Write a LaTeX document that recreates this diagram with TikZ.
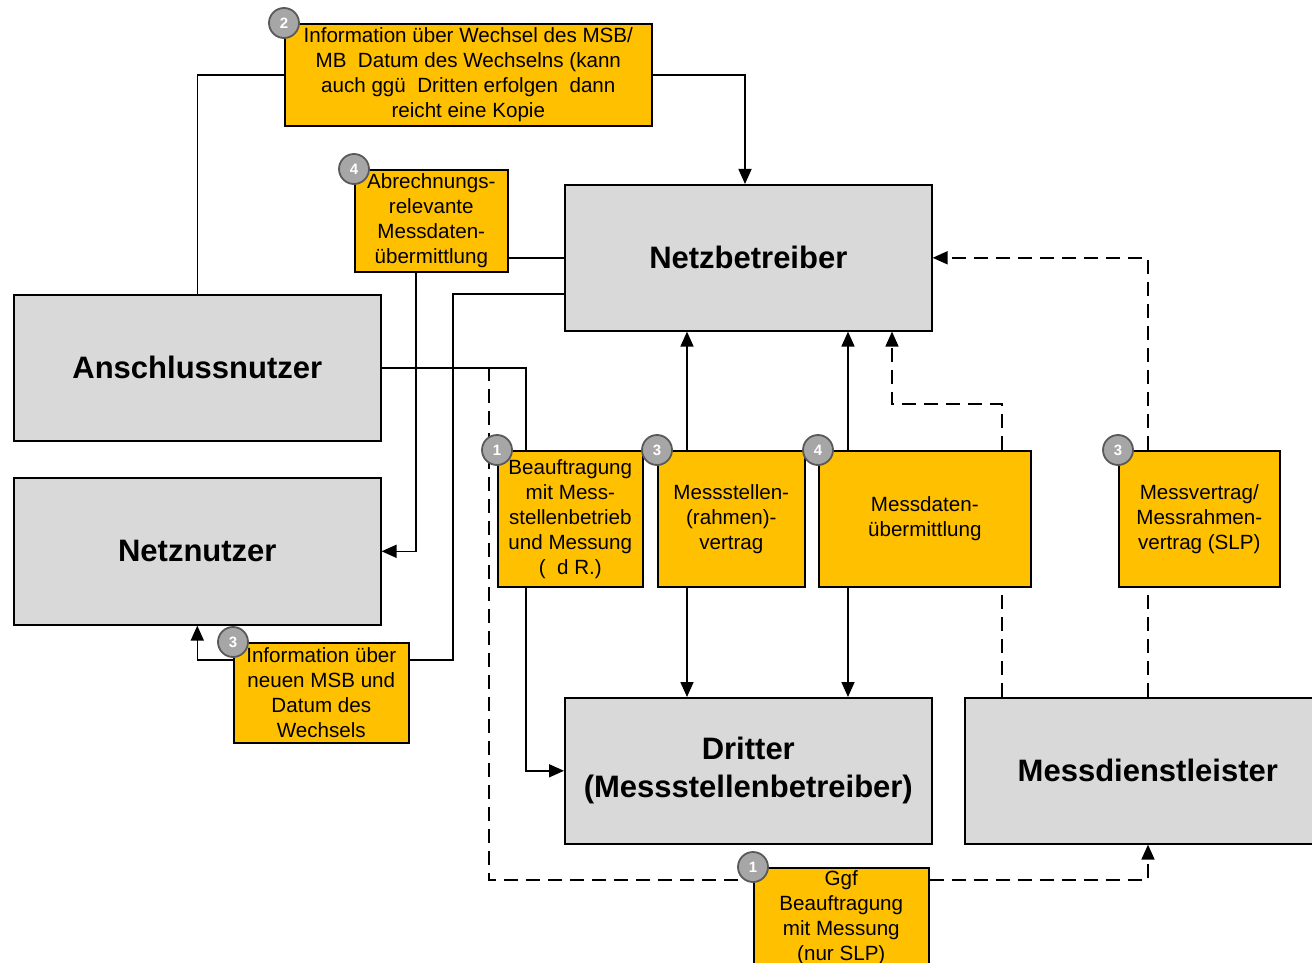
\documentclass[tikz,border=0pt]{standalone}
\usepackage{fontspec}
\setmainfont{Liberation Sans}
\usetikzlibrary{arrows.meta}
\definecolor{boxgray}{HTML}{D9D9D9}
\definecolor{boxorange}{HTML}{FFC000}
\definecolor{badgegray}{HTML}{A6A6A6}
\definecolor{badgeline}{HTML}{595959}
\tikzset{
  mainbox/.style={draw=black, line width=1.6pt, fill=boxgray, anchor=north west, inner sep=0pt, align=center, font=\fontsize{31}{38}\selectfont\bfseries},
  notebox/.style={draw=black, line width=1.6pt, fill=boxorange, anchor=north west, inner sep=0pt, align=center, font=\fontsize{20.6}{25}\selectfont},
  badge/.style={circle, draw=badgeline, line width=1.8pt, fill=badgegray, minimum size=30pt, inner sep=0pt, text=white, font=\fontsize{15}{15}\selectfont\bfseries},
  conn/.style={line width=1.6pt, draw=black},
  arr/.style={-{Triangle[length=15pt,width=13pt]}},
  dsh/.style={dash pattern=on 14pt off 8pt}
}
\begin{document}
\begin{tikzpicture}[x=1pt,y=-1pt]
\useasboundingbox (0,0) rectangle (1312,963);
% gray boxes
\node[mainbox, minimum width=367pt, minimum height=146pt] (NB) at (564,184) {Netzbetreiber};
\node[mainbox, minimum width=367pt, minimum height=146pt] (AN) at (13,294) {Anschlussnutzer};
\node[mainbox, minimum width=367pt, minimum height=147pt] (NN) at (13,477) {Netznutzer};
\node[mainbox, minimum width=367pt, minimum height=146pt] (DR) at (564,697) {Dritter\\(Messstellenbetreiber)};
\node[mainbox, minimum width=366pt, minimum height=146pt] (MD) at (964,697) {Messdienstleister};
% orange boxes
\node[notebox, minimum width=367pt, minimum height=102pt] (B2) at (284,23) {Information über Wechsel des MSB/\\MB\ \ Datum des Wechselns (kann\\auch ggü\ \ Dritten erfolgen\ \ dann\\reicht eine Kopie};
\node[notebox, minimum width=153pt, minimum height=102pt] (B4a) at (354,169) {Abrechnungs-\\relevante\\Messdaten-\\übermittlung};
\node[notebox, minimum width=145pt, minimum height=136pt] (B1) at (497,450) {Beauftragung\\mit Mess-\\stellenbetrieb\\und Messung\\(\ \ d R.)};
\node[notebox, minimum width=147pt, minimum height=136pt] (B3) at (657,450) {Messstellen-\\(rahmen)-\\vertrag};
\node[notebox, minimum width=212pt, minimum height=136pt] (B4) at (818,450) {Messdaten-\\übermittlung};
\node[notebox, minimum width=161pt, minimum height=136pt] (MV) at (1118,450) {Messvertrag/\\Messrahmen-\\vertrag (SLP)};
\node[notebox, minimum width=175pt, minimum height=100pt] (I3) at (233,642) {Information über\\neuen MSB und\\Datum des\\Wechsels};
\node[notebox, minimum width=175pt, minimum height=100pt] (G1) at (753,867) {Ggf\\Beauftragung\\mit Messung\\(nur SLP)};
% helper coordinates
\coordinate (p1) at (453,294);
\coordinate (q1) at (0,660);
\coordinate (x526) at (526,0);
\coordinate (d0) at (489,367);
\coordinate (y880) at (0,880);
\coordinate (x687) at (687,0);
\coordinate (x848) at (848,0);
\coordinate (x1002) at (1002,0);
\coordinate (c404) at (892,404);
\coordinate (x1148) at (1148,0);
\coordinate (x416) at (416,0);
\coordinate (x745) at (745,0);
% connectors
\draw[conn] (AN.north) |- (B2.west);
\draw[conn,arr] (B2.east) -| (NB.north -| x745);
\draw[conn] (NB.west) -- (NB.west -| B4a.east);
\draw[conn,arr] (B4a.south -| x416) |- (NN.east);
\draw[conn] (NB.west |- p1) -- (p1) |- (I3.east |- q1);
\draw[conn,arr] (I3.west |- q1) -| (NN.south);
\draw[conn] (AN.east) -| (B1.north -| x526);
\draw[conn,arr] (B1.south -| x526) |- (DR.west);
\draw[conn,dsh] (d0) |- (G1.west |- y880);
\draw[conn,dsh,arr] (G1.east |- y880) -| (MD.south -| x1148);
\draw[conn,arr] (B3.north -| x687) -- (NB.south -| x687);
\draw[conn,arr] (B3.south -| x687) -- (DR.north -| x687);
\draw[conn,arr] (B4.north -| x848) -- (NB.south -| x848);
\draw[conn,arr] (B4.south -| x848) -- (DR.north -| x848);
\draw[conn,dsh] (MD.north -| x1002) -- (B4.south -| x1002);
\draw[conn,dsh,arr] (B4.north -| x1002) |- (c404) -- (NB.south -| c404);
\draw[conn,dsh] (MD.north -| x1148) -- (MV.south -| x1148);
\draw[conn,dsh,arr] (MV.north -| x1148) |- (NB.east);
% badges
\node[badge] (k2) at (B2.north west) {2};
\node[badge] (k4a) at (B4a.north west) {4};
\node[badge] (k1) at (B1.north west) {1};
\node[badge] (k3) at (B3.north west) {3};
\node[badge] (k4) at (B4.north west) {4};
\node[badge] (k3b) at (MV.north west) {3};
\node[badge] (k3c) at (I3.north west) {3};
\node[badge] (k1b) at (G1.north west) {1};
\end{tikzpicture}
\end{document}
